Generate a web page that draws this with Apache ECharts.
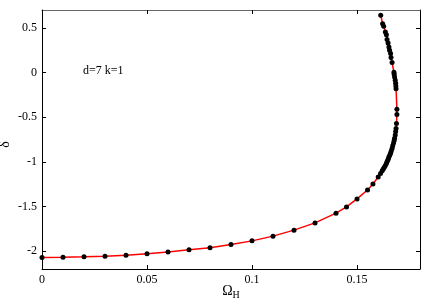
<!DOCTYPE html>
<html><head><meta charset="utf-8">
<script src="https://cdn.jsdelivr.net/npm/echarts@6/dist/echarts.min.js"></script>
<style>html,body{margin:0;padding:0;background:#fff}#c{width:436px;height:305px}</style>
</head><body><div id="c"></div>
<script>
// Omega_H values
const omegaH = [0, 0.01, 0.02, 0.03, 0.04, 0.05, 0.06, 0.07, 0.08, 0.09, 0.10, 0.11, 0.12, 0.13, 0.14, 0.145, 0.15, 0.155, 0.1576, 0.1601, 0.1612,
  0.1620, 0.1625, 0.1630, 0.1635, 0.1640, 0.1643, 0.1647, 0.1650, 0.1653, 0.1657, 0.1660, 0.1663, 0.1667, 0.1670, 0.1674, 0.1677, 0.1679, 0.1682, 0.1684, 0.1686, 0.1688, 0.1690, 0.1690,
  0.1686, 0.1685, 0.1684, 0.1682, 0.1679, 0.1677, 0.1676, 0.1667, 0.1662, 0.1660, 0.1655, 0.1652, 0.1648, 0.1643, 0.1640, 0.1635, 0.1627, 0.1622, 0.1613];
// delta values
const delta = [-2.07, -2.068, -2.064, -2.056, -2.045, -2.03, -2.011, -1.985, -1.963, -1.925, -1.885, -1.832, -1.765, -1.684, -1.575, -1.505, -1.415, -1.315, -1.248, -1.17, -1.13,
  -1.10, -1.08, -1.06, -1.04, -1.02, -1.00, -0.98, -0.96, -0.94, -0.92, -0.90, -0.88, -0.85, -0.82, -0.79, -0.76, -0.737, -0.70, -0.66, -0.626, -0.57, -0.47, -0.41,
  -0.183, -0.15, -0.12, -0.086, -0.049, -0.02, 0.003, 0.112, 0.168, 0.212, 0.249, 0.286, 0.331, 0.369, 0.424, 0.454, 0.517, 0.547, 0.64];
const xTicks = [0, 0.05, 0.1, 0.15];
const yTicks = [-2, -1.5, -1, -0.5, 0, 0.5];
const annotation = 'd=7 k=1';

const data = omegaH.map((x, i) => [x, delta[i]]);
const font = '"Liberation Serif", "DejaVu Serif", serif';
const chart = echarts.init(document.getElementById('c'), null, {renderer: 'canvas'});
const xBase = {
  type: 'value', min: 0, max: 0.18,
  axisLine: {show: true, onZero: false, lineStyle: {color: '#000', width: 1}},
  axisTick: {show: true, inside: true, length: 4, customValues: xTicks, lineStyle: {color: '#000'}},
  splitLine: {show: false}
};
const yBase = {
  type: 'value', min: -2.2, max: 0.7,
  axisLine: {show: true, onZero: false, lineStyle: {color: '#000', width: 1}},
  axisTick: {show: true, inside: true, length: 4, customValues: yTicks, lineStyle: {color: '#000'}},
  splitLine: {show: false}
};
chart.setOption({
  animation: false,
  grid: {left: 42, right: 16, top: 10, bottom: 36, containLabel: false, outerBoundsMode: 'none'},
  xAxis: [
    Object.assign({}, xBase, {
      position: 'bottom',
      axisLabel: {show: true, customValues: xTicks, margin: 5, fontFamily: font, fontSize: 12, color: '#000'},
      name: '{o|Ω}{s|H}', nameLocation: 'middle', nameGap: 13, nameMoveOverlap: false,
      nameTextStyle: {rich: {o: {fontFamily: font, fontSize: 14, color: '#000'}, s: {fontFamily: font, fontSize: 10, color: '#000', verticalAlign: 'bottom', padding: [8, 0, 0, 0]}}}
    }),
    Object.assign({}, xBase, {position: 'top', axisLabel: {show: false}, axisLine: {show: true, onZero: false, lineStyle: {color: '#666', width: 1}}})
  ],
  yAxis: [
    Object.assign({}, yBase, {
      position: 'left',
      axisLabel: {show: true, customValues: yTicks, margin: 5, fontFamily: font, fontSize: 12, color: '#000'},
      name: 'δ', nameLocation: 'middle', nameGap: 30, nameRotate: 90, nameMoveOverlap: false,
      nameTextStyle: {fontFamily: font, fontSize: 14, color: '#000', padding: [0, 10, 0, 0]}
    }),
    Object.assign({}, yBase, {position: 'right', axisLabel: {show: false}})
  ],
  series: [{
    type: 'line', xAxisIndex: 0, yAxisIndex: 0, data: data,
    showSymbol: true, symbol: 'circle', symbolSize: 5,
    itemStyle: {color: '#000'},
    lineStyle: {color: '#ff0000', width: 1.5},
    z: 3
  }],
  graphic: [{
    type: 'text', left: 83, top: 65,
    style: {text: annotation, font: '12px ' + font, fill: '#000'}
  }]
});
</script></body></html>
